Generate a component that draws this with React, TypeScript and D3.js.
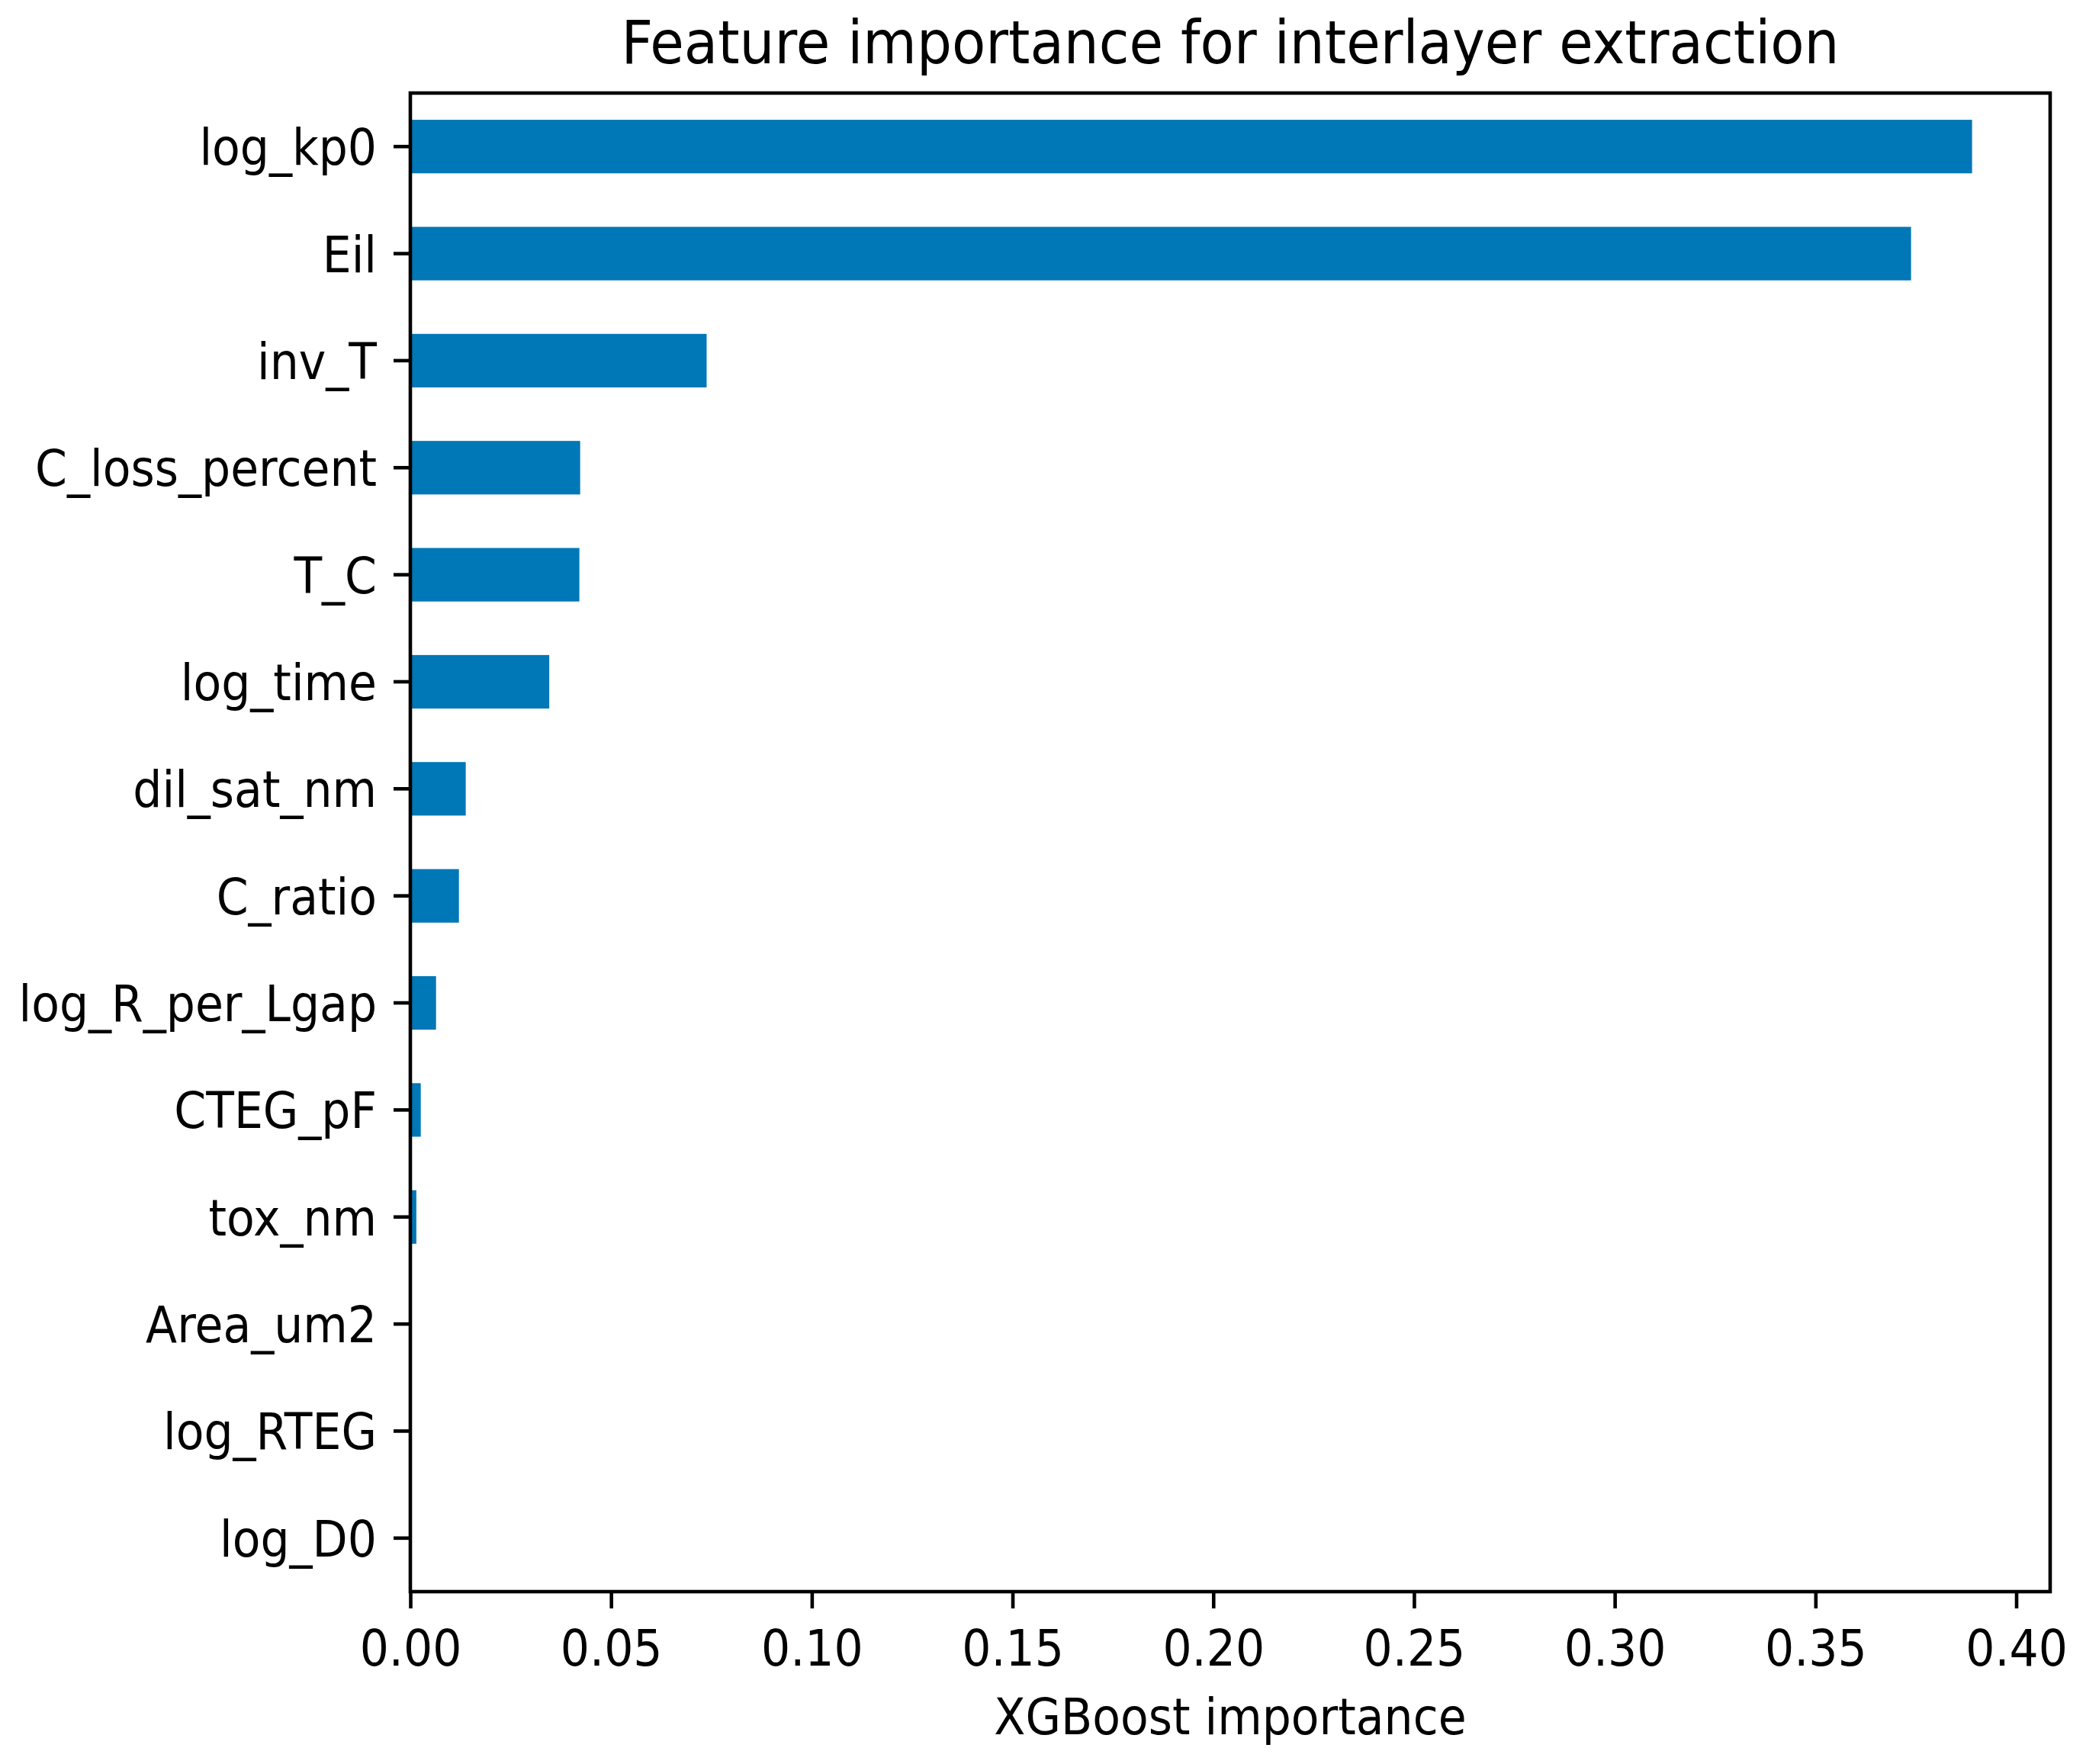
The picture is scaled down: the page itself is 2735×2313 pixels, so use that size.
import React, { useEffect, useRef } from 'react';
import * as d3 from 'd3';

const features = [
  'log_kp0', 'Eil', 'inv_T', 'C_loss_percent', 'T_C', 'log_time', 'dil_sat_nm',
  'C_ratio', 'log_R_per_Lgap', 'CTEG_pF', 'tox_nm', 'Area_um2', 'log_RTEG', 'log_D0',
];
const importance = [
  0.389, 0.3738, 0.0738, 0.0423, 0.0421, 0.0346, 0.0138,
  0.0121, 0.0064, 0.0026, 0.0015, 0, 0, 0,
];
const xTicks = [0, 0.05, 0.1, 0.15, 0.2, 0.25, 0.3, 0.35, 0.4];

const W = 2735;
const H = 2313;
const margin = { left: 538, right: 2688, top: 122, bottom: 2087 };
const FONT = '"DejaVu Sans", sans-serif';
const SX = 0.91; // glyphs in the picture are a bit narrow
const SX_TITLE = 0.917;

const Chart: React.FC = () => {
  const ref = useRef<SVGSVGElement>(null);

  useEffect(() => {
    const svg = d3.select(ref.current);
    svg.selectAll('*').remove();

    const x = d3.scaleLinear()
      .domain([0, (d3.max(importance) || 0) * 1.05])
      .range([margin.left, margin.right]);

    const y = d3.scaleBand()
      .domain(features)
      .range([margin.top, margin.bottom])
      .paddingInner(0.5)
      .paddingOuter(0.25);

    svg.append('rect')
      .attr('width', W).attr('height', H).attr('fill', '#fff');

    svg.selectAll('.bar')
      .data(importance)
      .enter()
      .append('rect')
      .attr('class', 'bar')
      .attr('x', x(0))
      .attr('y', (d, i) => y(features[i])!)
      .attr('width', d => x(d) - x(0))
      .attr('height', y.bandwidth())
      .attr('fill', '#0077b6');

    // bottom axis
    const gx = svg.append('g')
      .attr('transform', `translate(0,${margin.bottom})`)
      .call(d3.axisBottom(x).tickValues(xTicks).tickFormat(d3.format('.2f')).tickSize(22));
    gx.select('.domain').remove();
    gx.selectAll('line').attr('stroke', '#000').attr('stroke-width', 4.6);
    gx.selectAll('text')
      .attr('y', 97).attr('dy', 0)
      .attr('transform', `scale(${SX},1)`)
      .attr('fill', '#000')
      .style('font-family', FONT)
      .style('font-size', '66px');

    // left axis
    const gy = svg.append('g')
      .attr('transform', `translate(${margin.left},0)`)
      .call(d3.axisLeft(y).tickSize(22));
    gy.select('.domain').remove();
    gy.selectAll('line').attr('stroke', '#000').attr('stroke-width', 4.6);
    gy.selectAll('text')
      .attr('x', -44 / SX).attr('y', 24).attr('dy', 0)
      .attr('text-anchor', 'end')
      .attr('transform', `scale(${SX},1)`)
      .attr('fill', '#000')
      .style('font-family', FONT)
      .style('font-size', '66px');

    // frame
    svg.append('rect')
      .attr('x', margin.left).attr('y', margin.top)
      .attr('width', margin.right - margin.left)
      .attr('height', margin.bottom - margin.top)
      .attr('fill', 'none')
      .attr('stroke', '#000')
      .attr('stroke-width', 4.6);

    const cx = (margin.left + margin.right) / 2;

    svg.append('text')
      .attr('transform', `translate(${cx},83) scale(${SX_TITLE},1)`)
      .attr('text-anchor', 'middle')
      .style('font-family', FONT)
      .style('font-size', '79px')
      .text('Feature importance for interlayer extraction');

    svg.append('text')
      .attr('transform', `translate(${cx},2274) scale(${SX},1)`)
      .attr('text-anchor', 'middle')
      .style('font-family', FONT)
      .style('font-size', '66px')
      .text('XGBoost importance');
  }, []);

  return (
    <svg ref={ref} width={W} height={H}
      style={{ position: 'absolute', left: 0, top: 0, display: 'block' }} />
  );
};

export default function App() {
  return <Chart />;
}
